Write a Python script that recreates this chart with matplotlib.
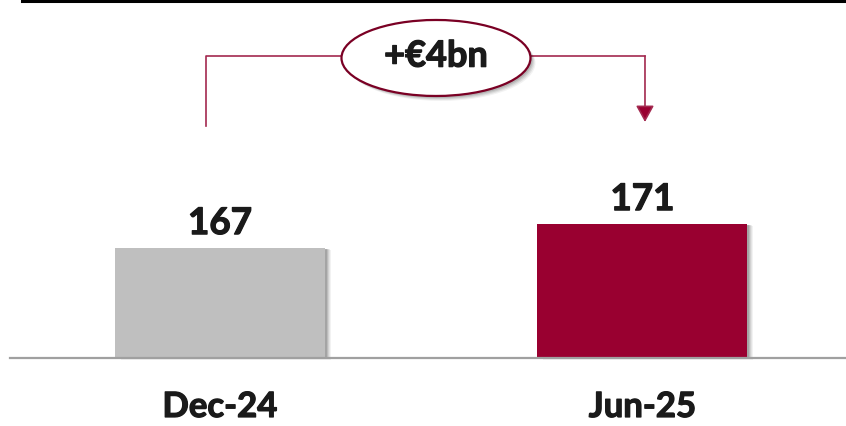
import matplotlib
matplotlib.use("Agg")
import matplotlib.pyplot as plt
import matplotlib.patheffects as pe
from matplotlib.patches import Ellipse, Rectangle
from matplotlib.lines import Line2D

categories = ["Dec-24", "Jun-25"]
values = [167, 171]
value_labels = ["167", "171"]
change_label = "+\u20ac4bn"
bar_colors = ["#BFBFBF", "#990030"]

plt.rcParams['font.family'] = ['Lato', 'DejaVu Sans']

W, H = 846, 427
fig = plt.figure(figsize=(W / 100, H / 100), dpi=100)
ax = fig.add_axes([0, 0, 1, 1])
ax.set_axis_off()

base = 148.67
ax.set_xlim(-0.5207, 1.4817)
ax.set_ylim(137.33, 208.5)

x = list(range(len(categories)))
width = 0.497

px_x = 1 / 422.5
px_y = 1 / 6.0

for i, v in zip(x, values):
    for k, a in [(6, 0.05), (5, 0.06), (4, 0.08), (3, 0.10), (2, 0.12)]:
        ax.add_patch(Rectangle((i - width / 2 + k * px_x, base - k * 0.3 * px_y),
                               width, v - base, facecolor="black", alpha=a,
                               edgecolor="none", zorder=1))

ax.bar(x, [v - base for v in values], bottom=base, width=width,
       color=bar_colors, zorder=2)

ax.add_line(Line2D([-0.5207 + 10 * px_x, 1.4817], [base, base], color="#A0A0A0",
                   lw=1.6, zorder=3))
fig.add_artist(Line2D([22 / W, 1.0], [1 - 2 / H, 1 - 2 / H], color="black", lw=2.2,
                      transform=fig.transFigure))

txt_color = "#1A1A1A"
heavy = [pe.withStroke(linewidth=0.9, foreground=txt_color)]
for i, v, lab, cat in zip(x, values, value_labels, categories):
    ax.annotate(lab, (i, v), xytext=(0, 10), textcoords="offset points",
                ha="center", va="baseline", fontsize=26.5, fontweight="bold",
                color=txt_color, zorder=5, path_effects=heavy)
    ax.annotate(cat, (i, base), xytext=(0, -42.5), textcoords="offset points",
                ha="center", va="baseline", fontsize=25, fontweight="bold",
                color=txt_color, zorder=5, path_effects=heavy)

line_color = "#A3294F"
top_y = max(values) + 28.0
left_x = x[0] - 14 * px_x
right_x = x[1] + 2.5 * px_x
ell_cx = x[0] + 216 * px_x
ell_cy = top_y - 0.33
ell_w = 189 * px_x
ell_h = 76 * px_y

ax.add_line(Line2D([left_x, left_x, ell_cx - ell_w / 2], [values[0] + 20.33, top_y, top_y],
                   color=line_color, lw=1.2, zorder=3))
ax.add_line(Line2D([ell_cx + ell_w / 2, right_x], [top_y, top_y],
                   color=line_color, lw=1.2, zorder=3))
ax.annotate("", xy=(right_x, values[1] + 17.0), xytext=(right_x, top_y),
            arrowprops=dict(arrowstyle="-|>,head_length=1.0,head_width=0.55",
                            color=line_color, lw=1.2, shrinkA=0, shrinkB=0,
                            mutation_scale=10, fc="#990030", ec=line_color),
            zorder=3)

for k, a in [(5, 0.05), (4, 0.07), (3, 0.09), (2, 0.11)]:
    ax.add_patch(Ellipse((ell_cx + k * px_x, ell_cy - k * px_y), ell_w, ell_h,
                         facecolor="black", alpha=a, edgecolor="none", zorder=3))
ax.add_patch(Ellipse((ell_cx, ell_cy), ell_w, ell_h, facecolor="white",
                     edgecolor="#7A0024", lw=1.6, zorder=4))
ax.text(ell_cx, ell_cy + 0.3, change_label, ha="center", va="center", fontsize=26,
        fontweight="bold", color=txt_color, zorder=5, path_effects=heavy)

fig.savefig("out.png", dpi=100)
